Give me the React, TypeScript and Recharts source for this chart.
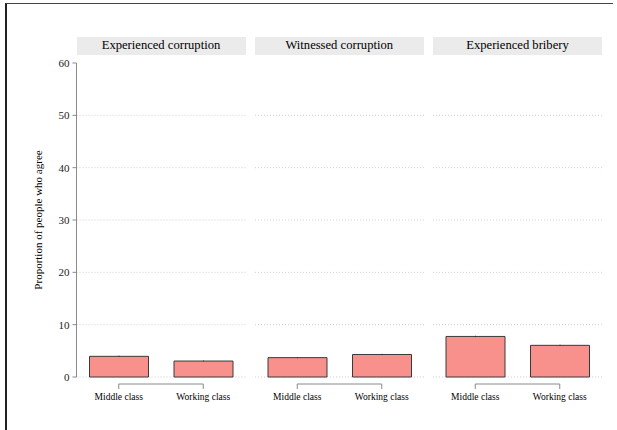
import React from "react";
import { BarChart, Bar, XAxis, YAxis, CartesianGrid, ErrorBar } from "recharts";

const classes = ["Middle class", "Working class"];
const panelTitles = ["Experienced corruption", "Witnessed corruption", "Experienced bribery"];

// share of respondents who agree, by class
const experiencedCorruption = [3.95, 3.05];
const witnessedCorruption = [3.7, 4.3];
const experiencedBribery = [7.75, 6.05];

// half-width of the confidence interval
const experiencedCorruptionErr = [0.12, 0.1];
const witnessedCorruptionErr = [0.1, 0.12];
const experiencedBriberyErr = [0.12, 0.12];

const yTicks = [0, 10, 20, 30, 40, 50, 60];
const gridValues = [0, 10, 20, 30, 40, 50];

const FONT = "Liberation Serif, DejaVu Serif, serif";
const PLOT_W = 169;
const AXIS_W = 76.5;
const PANEL_STEP = 178.25;
const BAND = PLOT_W / classes.length;

const panelValues = [experiencedCorruption, witnessedCorruption, experiencedBribery];
const panelErrs = [experiencedCorruptionErr, witnessedCorruptionErr, experiencedBriberyErr];

const rows = (values: number[], errs: number[]) =>
  classes.map((cls, i) => ({ cls, share: values[i], err: errs[i] }));

// bracket-style x axis: a line joining the two categories with ticks hanging down
function ClassTick(props: any) {
  const { x, y, payload, index } = props;
  return (
    <g>
      {index === 0 && <line x1={x} x2={x + BAND} y1={y + 7} y2={y + 7} stroke="#8a8a8a" strokeWidth={1} />}
      <line x1={x} x2={x} y1={y + 7} y2={y + 12} stroke="#8a8a8a" strokeWidth={1} />
      <text x={x} y={y + 22.5} textAnchor="middle" style={{ fontSize: 9.5, fill: "#000", fontFamily: FONT }}>
        {payload.value}
      </text>
    </g>
  );
}

function Panel({ index }: { index: number }) {
  const first = index === 0;
  const left = first ? 0 : AXIS_W + index * PANEL_STEP;
  const width = first ? AXIS_W + PLOT_W : PLOT_W;
  return (
    <div style={{ position: "absolute", left, top: 0 }}>
      <BarChart
        width={width}
        height={430}
        data={rows(panelValues[index], panelErrs[index])}
        margin={{ top: 63, right: 0, bottom: 13, left: 0 }}
        style={{ fontFamily: FONT }}
      >
        <CartesianGrid
          vertical={false}
          horizontalValues={gridValues}
          stroke="#cfcfcf"
          strokeDasharray="1 2"
        />
        <XAxis
          dataKey="cls"
          height={40}
          axisLine={false}
          tickLine={false}
          tickSize={0}
          tickMargin={0}
          interval={0}
          tick={<ClassTick />}
        />
        <YAxis
          hide={!first}
          width={AXIS_W}
          type="number"
          domain={[0, 60]}
          ticks={yTicks}
          stroke="#8a8a8a"
          tickSize={4}
          tickMargin={3}
          tick={{ fontSize: 11, fill: "#222", fontFamily: FONT }}
          label={{
            value: "Proportion of people who agree",
            angle: -90,
            position: "center",
            style: { fontSize: 11, fill: "#000", fontFamily: FONT, textAnchor: "middle" },
          }}
        />
        <Bar dataKey="share" barSize={59} fill="#f8918b" stroke="#3a3a3a" strokeWidth={1} isAnimationActive={false}>
          <ErrorBar dataKey="err" width={0} stroke="#333" strokeWidth={1} isAnimationActive={false} />
        </Bar>
      </BarChart>
    </div>
  );
}

export default function App() {
  return (
    <div style={{ position: "absolute", left: 0, top: 0, width: 617, height: 430, background: "#fff", fontFamily: FONT }}>
      <div
        style={{
          position: "absolute",
          left: 5,
          top: 3,
          width: 608,
          height: 427,
          borderLeft: "2px solid #222",
          borderTop: "1.5px solid #444",
          boxSizing: "border-box",
        }}
      />
      {panelTitles.map((title, i) => (
        <div
          key={title}
          style={{
            position: "absolute",
            left: AXIS_W + i * PANEL_STEP,
            top: 37,
            width: PLOT_W,
            height: 17.5,
            background: "#ebebeb",
            color: "#000",
            fontSize: 12.6,
            lineHeight: "17.5px",
            textAlign: "center",
          }}
        >
          {title}
        </div>
      ))}
      {panelTitles.map((title, i) => (
        <Panel key={title} index={i} />
      ))}
    </div>
  );
}
